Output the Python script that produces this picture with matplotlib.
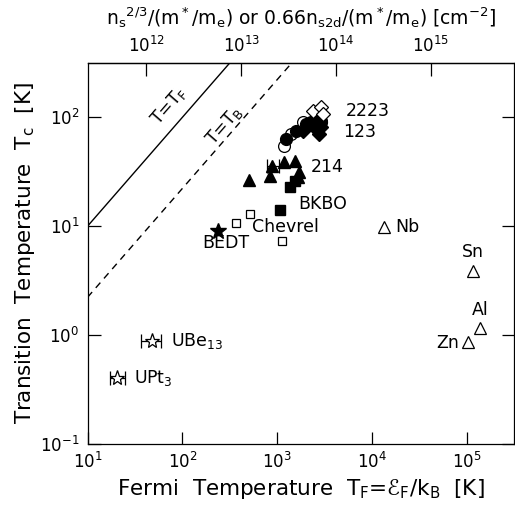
import numpy as np
import matplotlib
matplotlib.use("Agg")
import matplotlib.pyplot as plt

plt.rcParams['font.family'] = ['DejaVu Sans']
plt.rcParams['mathtext.fontset'] = 'dejavusans'
plt.rcParams['mathtext.default'] = 'regular'

# ---- data (T_F [K], Tc [K]) ----
upt3_tf, upt3_tc, upt3_lo, upt3_hi = [20.2], [0.40], [3.0], [4.8]
ube13_tf, ube13_tc, ube13_lo, ube13_hi = [48.0], [0.89], [11.0], [12.0]
bedt_tf, bedt_tc = [240], [9.1]
chevrel_tf = [363, 521, 1122]
chevrel_tc = [10.7, 13.0, 7.3]
bkbo_tf = [1080, 1370, 1550]
bkbo_tc = [14.0, 23.0, 26.0]
t214_tf = [509, 830, 890, 1190, 1550, 1660, 1680]
t214_tc = [26.5, 29.0, 36.0, 38.5, 40.0, 28.5, 31.5]
t214_err_tf, t214_err_tc, t214_err_lo, t214_err_hi = [890], [36.0], [110], [160]
c123_open_tf = [1189, 1397, 1850, 2700, 2900]
c123_open_tc = [55, 70, 90, 82, 92]
c123_fill_tf = [1239, 1577, 2009, 2266, 2557, 2888]
c123_fill_tc = [63, 75.5, 87, 90, 90, 90]
dia_fill_tf = [1850, 2557, 2771, 2888]
dia_fill_tc = [75.5, 78, 70, 82]
d2223_tf = [2355, 2888, 3001]
d2223_tc = [115, 124, 107]
elem_names = ['Nb', 'Sn', 'Al', 'Zn']
elem_tf = [13360, 116000, 137000, 103000]
elem_tc = [9.8, 3.9, 1.16, 0.855]

tb_ratio = 4.5
xlim = (10, 10**5.5)
ylim = (0.1, 10**2.5)

fig = plt.figure(figsize=(5.15, 5.15), dpi=100)
ax = fig.add_axes([0.170, 0.138, 0.829, 0.740])
ax.set_xscale('log')
ax.set_yscale('log')
ax.set_xlim(*xlim)
ax.set_ylim(*ylim)

xx = np.array(xlim)
ax.plot(xx, xx, color='black', lw=1.0)
ax.plot(xx, xx / tb_ratio, color='black', lw=1.0, dashes=(5, 4))

ax.errorbar(upt3_tf, upt3_tc, xerr=[upt3_lo, upt3_hi], fmt='*', ms=11, mfc='white',
            mec='black', mew=0.9, ecolor='black', elinewidth=0.9, capsize=5, capthick=0.9)
ax.errorbar(ube13_tf, ube13_tc, xerr=[ube13_lo, ube13_hi], fmt='*', ms=11, mfc='white',
            mec='black', mew=0.9, ecolor='black', elinewidth=0.9, capsize=5, capthick=0.9)
ax.plot(bedt_tf, bedt_tc, '*', ms=12, color='black')
ax.plot(chevrel_tf, chevrel_tc, 's', ms=6, mfc='white', mec='black', mew=0.9)
ax.plot(bkbo_tf, bkbo_tc, 's', ms=6.5, color='black')
ax.errorbar(t214_err_tf, t214_err_tc, xerr=[t214_err_lo, t214_err_hi], fmt='none',
            ecolor='black', elinewidth=0.9, capsize=5, capthick=0.9)
ax.plot(t214_tf, t214_tc, '^', ms=9, color='black')
ax.plot(c123_open_tf, c123_open_tc, 'o', ms=8.5, mfc='white', mec='black', mew=0.9)
ax.plot(c123_fill_tf, c123_fill_tc, 'o', ms=8.5, color='black')
ax.plot(dia_fill_tf, dia_fill_tc, 'D', ms=7, color='black')
ax.plot(d2223_tf, d2223_tc, 'D', ms=7.5, mfc='white', mec='black', mew=0.9)
ax.plot(elem_tf, elem_tc, '^', ms=9, mfc='white', mec='black', mew=0.9)

fs = 12.5
ax.text(31, 0.40, 'UPt$_3$', fontsize=fs, va='center', ha='left')
ax.text(75, 0.89, 'UBe$_{13}$', fontsize=fs, va='center', ha='left')
ax.text(160, 7.0, 'BEDT', fontsize=fs, va='center', ha='left')
ax.text(540, 9.9, 'Chevrel', fontsize=fs, va='center', ha='left')
ax.text(1650, 16.0, 'BKBO', fontsize=fs, va='center', ha='left')
ax.text(2250, 35.0, '214', fontsize=fs, va='center', ha='left')
ax.text(4900, 74.0, '123', fontsize=fs, va='center', ha='left')
ax.text(5300, 114.0, '2223', fontsize=fs, va='center', ha='left')
ax.text(17500, 9.8, 'Nb', fontsize=fs, va='center', ha='left')
ax.text(116000, 5.8, 'Sn', fontsize=fs, va='center', ha='center')
ax.text(137000, 1.70, 'Al', fontsize=fs, va='center', ha='center')
ax.text(82000, 0.85, 'Zn', fontsize=fs, va='center', ha='right')
ax.text(72, 128, 'T=T$_F$', fontsize=fs, va='center', ha='center', rotation=49)
ax.text(275, 84, 'T=T$_B$', fontsize=fs, va='center', ha='center', rotation=49)

ax.tick_params(which='major', direction='in', length=9, width=0.9, labelsize=12,
               top=False, right=True, pad=6)
ax.xaxis.set_minor_locator(matplotlib.ticker.NullLocator())
ax.yaxis.set_minor_locator(matplotlib.ticker.NullLocator())
for s in ax.spines.values():
    s.set_linewidth(0.9)

ax.set_xlabel('Fermi  Temperature  T$_F$=\u2130$_F$/k$_B$  [K]', fontsize=15.5, labelpad=3)
ax.set_ylabel('Transition  Temperature  T$_c$  [K]', fontsize=15.5, labelpad=2)

offset = 10.38
sec = ax.secondary_xaxis('top', functions=(lambda t: t * 10**offset, lambda n: n / 10**offset))
sec.set_xticks([1e12, 1e13, 1e14, 1e15])
sec.xaxis.set_minor_locator(matplotlib.ticker.NullLocator())
sec.tick_params(which='major', direction='in', length=9, width=0.9, labelsize=12, pad=5)
sec.spines['top'].set_linewidth(0.9)
sec.set_xlabel('n$_s$$^{2/3}$/(m$^*$/m$_e$) or 0.66n$_{s2d}$/(m$^*$/m$_e$) [cm$^{-2}$]',
               fontsize=13.5, labelpad=8)

fig.savefig('out.png', dpi=100)
